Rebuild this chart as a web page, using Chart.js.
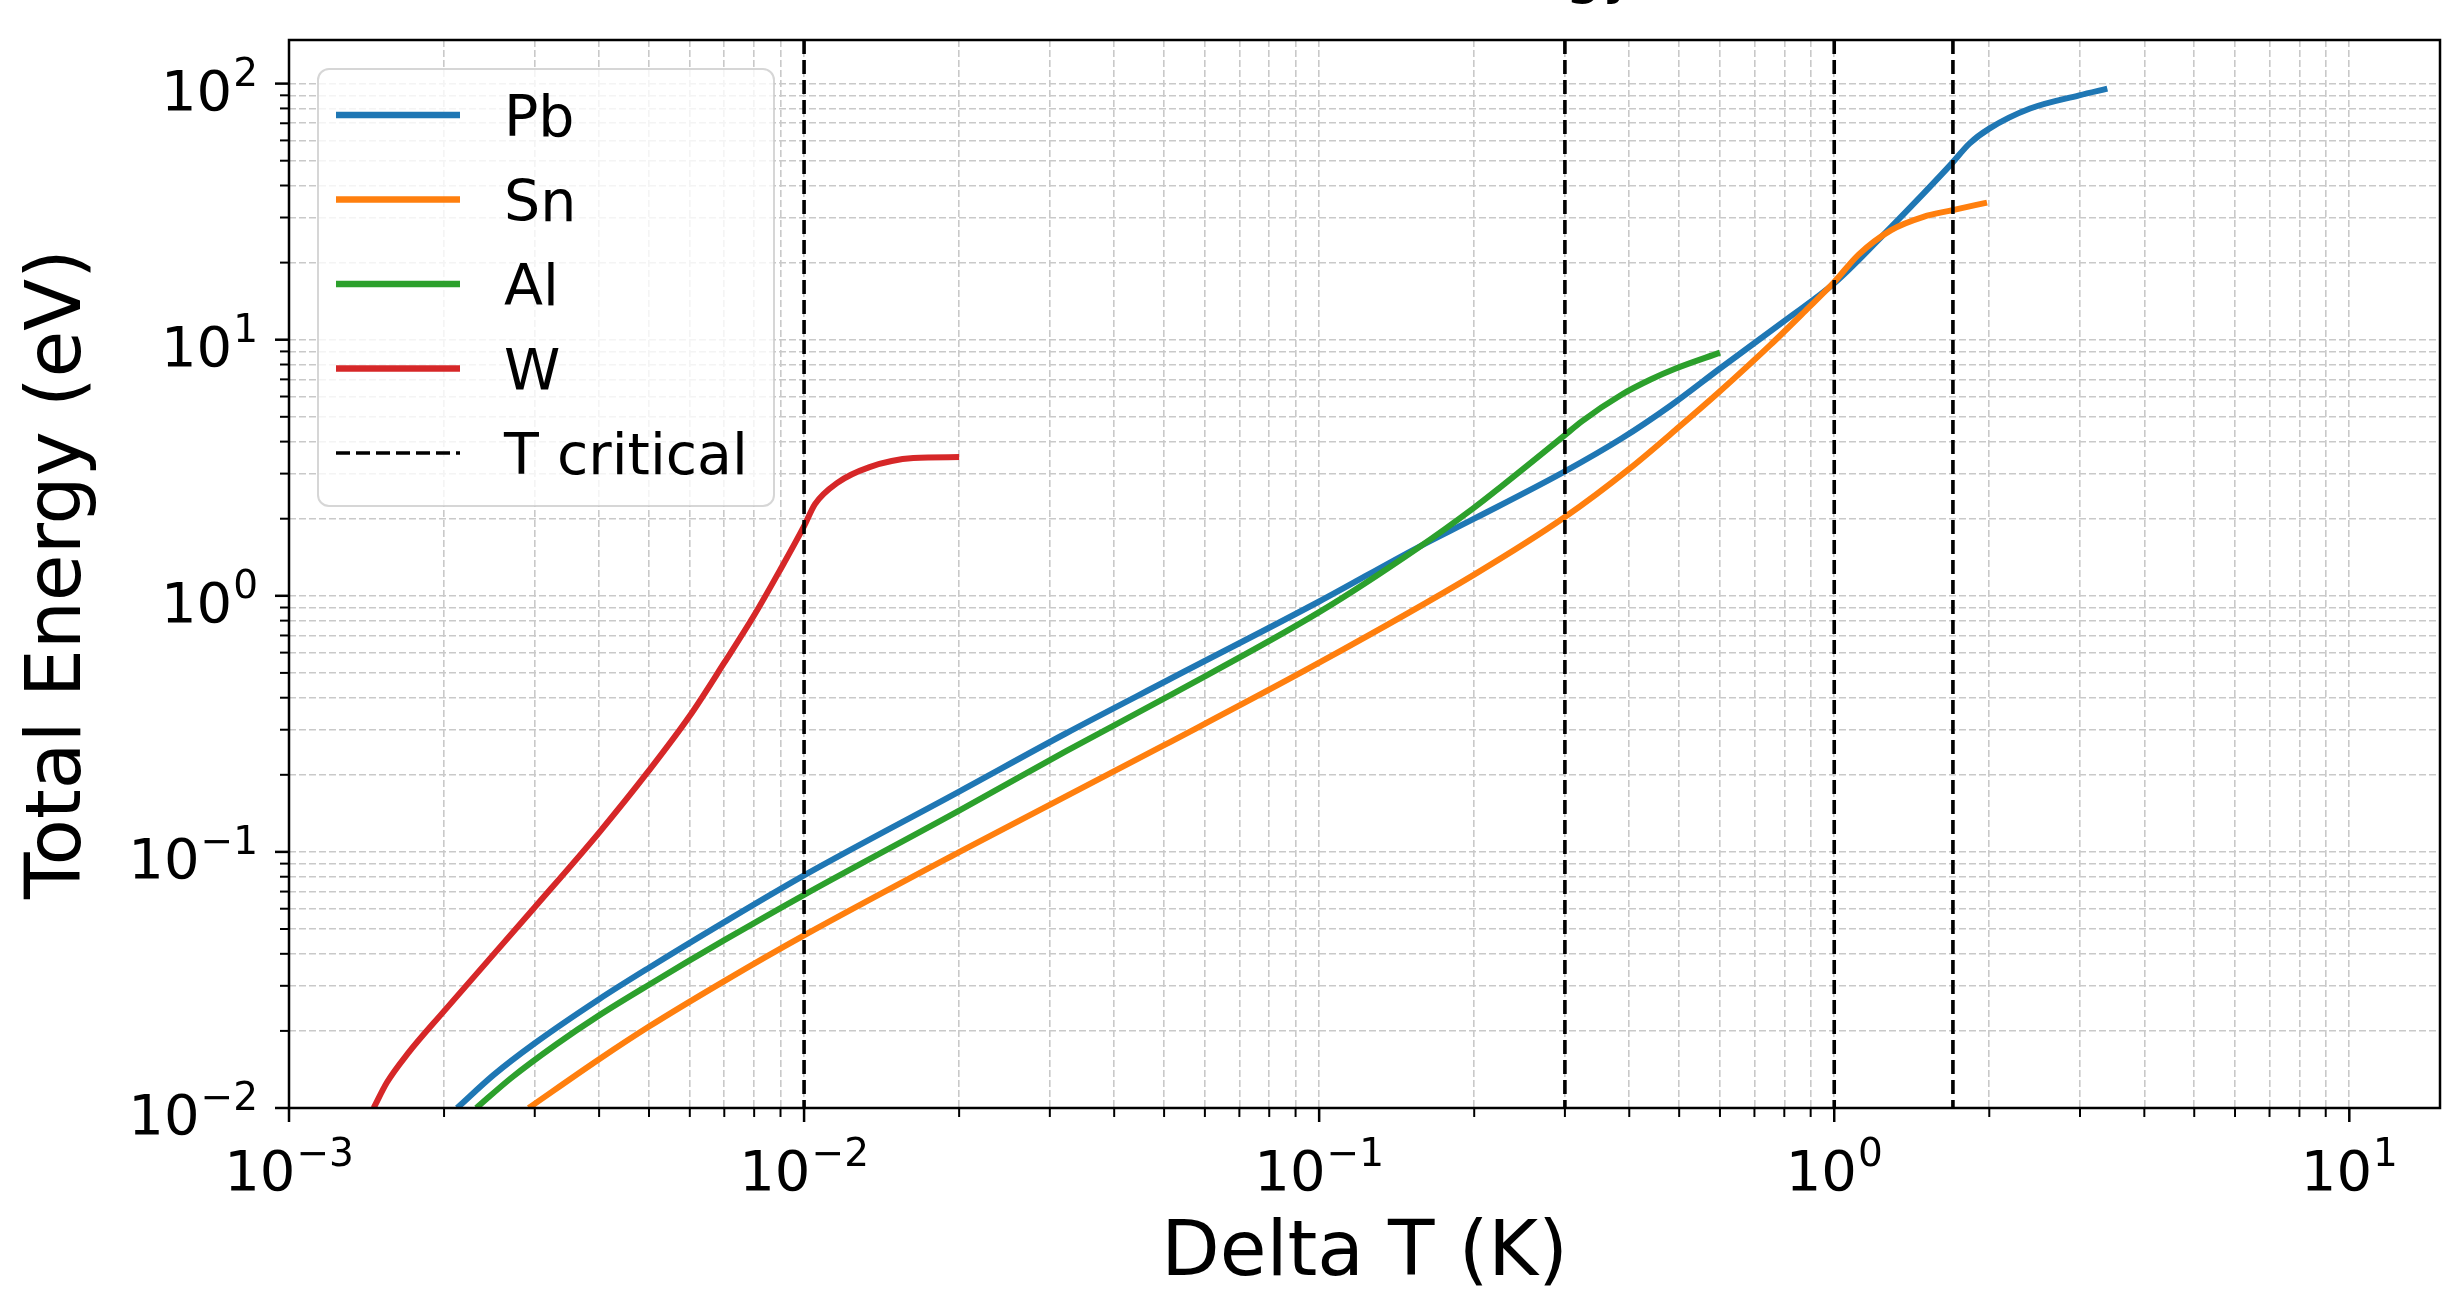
<!DOCTYPE html>
<html>
<head>
<meta charset="utf-8">
<script src="https://cdn.jsdelivr.net/npm/chart.js@4.4.1/dist/chart.umd.min.js"></script>
<style>
html,body{margin:0;padding:0;background:#fff;overflow:hidden}
#wrap{width:2442px;height:1293px;position:relative}
canvas{display:block}
</style>
</head>
<body>
<div id="wrap"><canvas id="c" width="2442" height="1293"></canvas></div>
<script>
// ---------------- data ----------------
const seriesLabels = ['Pb', 'Sn', 'Al', 'W'];
const seriesColors = ['#1f77b4', '#ff7f0e', '#2ca02c', '#d62728'];

const pbX = [0.00212, 0.0025, 0.0030, 0.0040, 0.0050, 0.0070, 0.0100, 0.0200, 0.0322, 0.0509, 0.100, 0.155, 0.200, 0.300, 0.387, 0.480, 0.600, 0.803, 1.00, 1.29, 1.49, 1.69, 1.83, 2.00, 2.40, 2.99, 3.39];
const pbY = [0.0100, 0.0135, 0.0179, 0.0266, 0.0353, 0.0532, 0.0810, 0.172, 0.290, 0.469, 0.950, 1.54, 2.00, 3.06, 4.12, 5.51, 7.72, 11.9, 16.6, 27.6, 37.2, 48.7, 58.3, 66.7, 79.9, 90.0, 95.6];

const snX = [0.00292, 0.0040, 0.0050, 0.0070, 0.0100, 0.0200, 0.0500, 0.100, 0.200, 0.300, 0.400, 0.500, 0.600, 0.750, 0.880, 1.00, 1.115, 1.29, 1.49, 1.69, 1.98];
const snY = [0.0100, 0.0155, 0.0208, 0.0313, 0.0472, 0.0998, 0.261, 0.548, 1.21, 2.03, 3.13, 4.57, 6.29, 9.50, 13.0, 16.8, 21.5, 26.8, 30.2, 32.0, 34.3];

const alX = [0.00231, 0.0027, 0.0033, 0.0040, 0.0050, 0.0070, 0.0100, 0.0200, 0.0322, 0.0509, 0.100, 0.155, 0.200, 0.224, 0.300, 0.323, 0.387, 0.440, 0.491, 0.600];
const alY = [0.0100, 0.0131, 0.0177, 0.0230, 0.0303, 0.0452, 0.0680, 0.145, 0.247, 0.405, 0.863, 1.53, 2.21, 2.64, 4.24, 4.79, 6.11, 6.99, 7.70, 8.90];

const wX = [0.00146, 0.00155, 0.00170, 0.0020, 0.0030, 0.0040, 0.0050, 0.0060, 0.0070, 0.0080, 0.0090, 0.0100, 0.0105, 0.0116, 0.0134, 0.0163, 0.0200];
const wY = [0.0100, 0.0126, 0.0163, 0.0239, 0.0608, 0.119, 0.208, 0.340, 0.548, 0.839, 1.27, 1.87, 2.28, 2.76, 3.18, 3.45, 3.48];

const criticalLabel = 'T critical';
const criticalT = [0.01, 0.3, 1.0, 1.7];

// tick labels (powers of ten)
const xMajorTicks = [1e-3, 1e-2, 1e-1, 1, 10];
const xTickExps   = ['\u22123', '\u22122', '\u22121', '0', '1'];
const yMajorTicks = [1e-2, 1e-1, 1, 10, 100];
const yTickExps   = ['\u22122', '\u22121', '0', '1', '2'];
const minorMantissas = [2, 3, 4, 5, 6, 7, 8, 9];

const xTitle = 'Delta T (K)';
const yTitle = 'Total Energy (eV)';
const chartTitle = 'Delta T vs Total Energy';

const X_MIN = 1e-3, X_MAX = 15, Y_MIN = 1e-2, Y_MAX = 148;

// ---------------- build ----------------
const FAMILY = "'DejaVu Sans', sans-serif";
const seriesX = [pbX, snX, alX, wX];
const seriesY = [pbY, snY, alY, wY];

const datasets = seriesLabels.map((lab, i) => ({
  label: lab,
  data: seriesX[i].map((v, j) => ({x: v, y: seriesY[i][j]})),
  borderColor: seriesColors[i],
  backgroundColor: seriesColors[i],
  borderWidth: 6,
  pointRadius: 0,
  fill: false,
  cubicInterpolationMode: 'monotone',
  order: seriesLabels.length - i
}));

function logTicks(majors, min, max) {
  const out = [];
  majors.forEach(d => {
    if (d >= min * 0.999 && d <= max * 1.001) out.push({value: d, major: true});
    minorMantissas.forEach(m => {
      const v = d * m;
      if (v > min && v < max) out.push({value: v, major: false});
    });
  });
  out.sort((a, b) => a.value - b.value);
  return out;
}

const gridColor = '#c9c9c9';
const critDash = [14, 6];
const critWidth = 3.6;

const mplPlugin = {
  id: 'mplPlugin',
  afterDatasetsDraw(chart) {
    const {ctx, chartArea: a, scales: {x}} = chart;
    ctx.save();
    ctx.beginPath();
    ctx.rect(a.left, a.top, a.right - a.left, a.bottom - a.top);
    ctx.clip();
    ctx.strokeStyle = '#000';
    ctx.lineWidth = critWidth;
    ctx.setLineDash(critDash);
    criticalT.forEach(t => {
      const px = x.getPixelForValue(t);
      ctx.beginPath();
      ctx.moveTo(px, a.top);
      ctx.lineTo(px, a.bottom);
      ctx.stroke();
    });
    ctx.restore();
  },
  afterDraw(chart) {
    const {ctx, chartArea: a, scales: {x, y}} = chart;
    ctx.save();
    // spines
    ctx.strokeStyle = '#000';
    ctx.lineWidth = 2.5;
    ctx.setLineDash([]);
    ctx.strokeRect(a.left, a.top, a.right - a.left, a.bottom - a.top);

    // tick marks
    x.ticks.forEach(t => {
      const px = x.getPixelForValue(t.value);
      ctx.lineWidth = t.major ? 2.5 : 2;
      ctx.beginPath();
      ctx.moveTo(px, a.bottom);
      ctx.lineTo(px, a.bottom + (t.major ? 14 : 9));
      ctx.stroke();
    });
    y.ticks.forEach(t => {
      const py = y.getPixelForValue(t.value);
      ctx.lineWidth = t.major ? 2.5 : 2;
      ctx.beginPath();
      ctx.moveTo(a.left, py);
      ctx.lineTo(a.left - (t.major ? 14 : 9), py);
      ctx.stroke();
    });

    // tick labels 10^n
    const F = 56, FE = 39;
    ctx.fillStyle = '#000';
    ctx.textBaseline = 'alphabetic';
    ctx.textAlign = 'left';
    const measure = (exp) => {
      ctx.font = F + 'px ' + FAMILY; const w1 = ctx.measureText('10').width;
      ctx.font = FE + 'px ' + FAMILY; const w2 = ctx.measureText(exp).width;
      return [w1, w2];
    };
    const drawLabel = (exp, left, base) => {
      const [w1] = measure(exp);
      ctx.font = F + 'px ' + FAMILY; ctx.fillText('10', left, base);
      ctx.font = FE + 'px ' + FAMILY; ctx.fillText(exp, left + w1 + 1, base - 24);
    };
    xMajorTicks.forEach((v, i) => {
      if (v < X_MIN || v > X_MAX) return;
      const px = x.getPixelForValue(v);
      const [w1, w2] = measure(xTickExps[i]);
      drawLabel(xTickExps[i], px - (w1 + w2 + 1) / 2, a.bottom + 82);
    });
    yMajorTicks.forEach((v, i) => {
      if (v < Y_MIN || v > Y_MAX) return;
      const py = y.getPixelForValue(v);
      const [w1, w2] = measure(yTickExps[i]);
      drawLabel(yTickExps[i], a.left - 31 - (w1 + w2 + 1), py + 26);
    });

    // legend
    const L = {x: 318, y: 69, w: 456, h: 437, r: 11};
    ctx.beginPath();
    ctx.roundRect(L.x, L.y, L.w, L.h, L.r);
    ctx.fillStyle = 'rgba(255,255,255,0.8)';
    ctx.fill();
    ctx.strokeStyle = 'rgba(204,204,204,0.8)';
    ctx.lineWidth = 2;
    ctx.stroke();
    const rows = seriesLabels.map((l, i) => ({label: l, color: seriesColors[i], dash: []}));
    rows.push({label: criticalLabel, color: '#000', dash: critDash});
    ctx.font = '57px ' + FAMILY;
    rows.forEach((r, i) => {
      const ry = 115 + i * 84.5;
      ctx.strokeStyle = r.color;
      ctx.lineWidth = r.dash.length ? critWidth : 6.5;
      ctx.setLineDash(r.dash);
      ctx.beginPath();
      ctx.moveTo(336, ry);
      ctx.lineTo(460, ry);
      ctx.stroke();
      ctx.setLineDash([]);
      ctx.fillStyle = '#000';
      ctx.fillText(r.label, 504, ry + 21);
    });

    // title (mostly above the visible canvas)
    ctx.font = '60px ' + FAMILY;
    ctx.textAlign = 'right';
    ctx.fillText(chartTitle, 1638, -9);
    ctx.restore();
  }
};

new Chart(document.getElementById('c'), {
  type: 'line',
  data: {datasets},
  options: {
    responsive: false,
    animation: false,
    devicePixelRatio: 1,
    layout: {padding: {left: 0, top: 40, right: 2, bottom: 0}},
    plugins: {legend: {display: false}, tooltip: {enabled: false}, title: {display: false}},
    elements: {point: {radius: 0}},
    scales: {
      x: {
        type: 'logarithmic', min: X_MIN, max: X_MAX,
        afterBuildTicks: s => { s.ticks = logTicks(xMajorTicks, X_MIN, X_MAX); },
        afterFit: s => { s.height = 185; },
        ticks: {display: false},
        grid: {color: gridColor, lineWidth: 1.6, drawTicks: false},
        border: {display: false, dash: [7, 3]},
        title: {display: true, text: xTitle, color: '#000', font: {family: FAMILY, size: 76, lineHeight: 1}, padding: {top: 0, bottom: 0}}
      },
      y: {
        type: 'logarithmic', min: Y_MIN, max: Y_MAX,
        afterBuildTicks: s => { s.ticks = logTicks(yMajorTicks, Y_MIN, Y_MAX); },
        afterFit: s => { s.width = 289; },
        ticks: {display: false},
        grid: {color: gridColor, lineWidth: 1.6, drawTicks: false},
        border: {display: false, dash: [7, 3]},
        title: {display: true, text: yTitle, color: '#000', font: {family: FAMILY, size: 76, lineHeight: 1}, padding: {top: 22, bottom: 0}}
      }
    }
  },
  plugins: [mplPlugin]
});
</script>
</body>
</html>
